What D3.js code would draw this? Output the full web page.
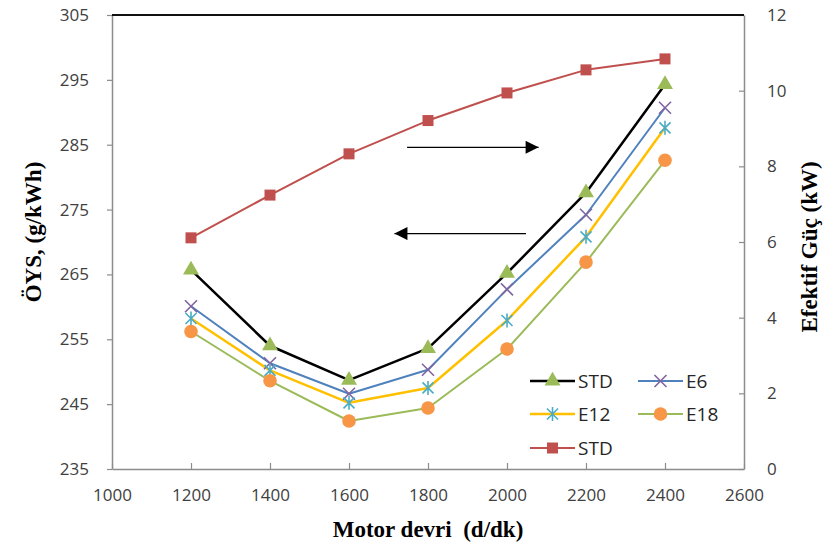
<!DOCTYPE html>
<html>
<head>
<meta charset="utf-8">
<script src="https://cdn.jsdelivr.net/npm/d3@7"></script>
<style>
  html, body { margin: 0; padding: 0; background: #fff; }
  svg { display: block; }
  .tick text { font-family: "Open Sans", sans-serif; font-size: 17px; fill: #404040; }
  .title { font-family: "Liberation Serif", serif; font-weight: bold; font-size: 23px; fill: #000; white-space: pre; }
  .legend text { font-family: "Open Sans", sans-serif; font-size: 19px; fill: #262626; }
</style>
</head>
<body>
<svg id="chart" width="823" height="545"></svg>
<script>
// Engine speed (rpm)
const rpm = [1200, 1400, 1600, 1800, 2000, 2200, 2400];

// Specific fuel consumption, g/kWh (left axis)
const bsfcSTD = [265.7, 254.0, 248.7, 253.6, 265.2, 277.6, 294.3];
const bsfcE6  = [260.1, 251.3, 246.6, 250.3, 262.7, 274.2, 290.7];
const bsfcE12 = [258.2, 250.2, 245.2, 247.5, 257.9, 270.8, 287.6];
const bsfcE18 = [256.2, 248.6, 242.4, 244.4, 253.5, 266.9, 282.6];

// Effective power, kW (right axis)
const powerSTD = [6.11, 7.24, 8.33, 9.21, 9.94, 10.55, 10.84];

// Axis ticks
const xTicks = [1000, 1200, 1400, 1600, 1800, 2000, 2200, 2400, 2600];
const yLeftTicks = [235, 245, 255, 265, 275, 285, 295, 305];
const yRightTicks = [0, 2, 4, 6, 8, 10, 12];

const svg = d3.select("#chart");
const plotLeft = 112, plotRight = 744, plotTop = 15, plotBottom = 469;

const x = d3.scaleLinear().domain([1000, 2600]).range([plotLeft, plotRight]);
const yL = d3.scaleLinear().domain([235, 305]).range([plotBottom, plotTop]);
const yR = d3.scaleLinear().domain([0, 12]).range([plotBottom, plotTop]);

const axisColor = "#8c8c8c";

// Axes
const gx = svg.append("g").attr("transform", `translate(0,${plotBottom})`)
  .call(d3.axisBottom(x).tickValues(xTicks).tickFormat(d3.format("d"))
    .tickSizeInner(-6).tickSizeOuter(0).tickPadding(20));
const gl = svg.append("g").attr("transform", `translate(${plotLeft},0)`)
  .call(d3.axisLeft(yL).tickValues(yLeftTicks).tickSizeInner(5).tickSizeOuter(0).tickPadding(18));
const gr = svg.append("g").attr("transform", `translate(${plotRight},0)`)
  .call(d3.axisRight(yR).tickValues(yRightTicks).tickSizeInner(-5).tickSizeOuter(0).tickPadding(23));
[gx, gl, gr].forEach(g => {
  g.select(".domain").attr("stroke", axisColor).attr("stroke-width", 1.5);
  g.selectAll(".tick line").attr("stroke", axisColor).attr("stroke-width", 1.2);
});

// Top border of the plot area
svg.append("line").attr("x1", plotLeft).attr("x2", plotRight).attr("y1", plotTop).attr("y2", plotTop)
  .attr("stroke", "#111").attr("stroke-width", 2);

// Axis titles
svg.append("text").attr("class", "title").attr("text-anchor", "middle")
  .attr("x", 428).attr("y", 537).text("Motor devri  (d/dk)");
svg.append("text").attr("class", "title").attr("text-anchor", "middle")
  .attr("transform", "translate(41,232) rotate(-90)").text("ÖYS, (g/kWh)");
svg.append("text").attr("class", "title").attr("text-anchor", "middle")
  .attr("transform", "translate(817,247) rotate(-90)").text("Efektif Güç (kW)");

// Series definitions
const series = [
  { name: "STD", values: bsfcSTD, y: yL, line: "#000000", width: 2.5, marker: "triangle", mcolor: "#9BBB59" },
  { name: "E6",  values: bsfcE6,  y: yL, line: "#4F81BD", width: 2,   marker: "cross",    mcolor: "#8064A2" },
  { name: "E12", values: bsfcE12, y: yL, line: "#FFC000", width: 2.5, marker: "star",     mcolor: "#4BACC6" },
  { name: "E18", values: bsfcE18, y: yL, line: "#9BBB59", width: 2,   marker: "circle",   mcolor: "#F79646" },
  { name: "STD", values: powerSTD, y: yR, line: "#C0504D", width: 2,  marker: "square",   mcolor: "#C0504D" }
];

function drawMarker(g, type, color) {
  if (type === "triangle") {
    g.append("path").attr("d", d3.symbol().type(d3.symbolTriangle).size(110)()).attr("fill", color);
  } else if (type === "cross") {
    g.append("path").attr("d", "M-6,-6L6,6M-6,6L6,-6").attr("stroke", color).attr("stroke-width", 1.6).attr("fill", "none");
  } else if (type === "star") {
    g.append("path").attr("d", "M-5.5,-5.5L5.5,5.5M-5.5,5.5L5.5,-5.5M0,-7L0,7")
      .attr("stroke", color).attr("stroke-width", 1.6).attr("fill", "none");
  } else if (type === "circle") {
    g.append("circle").attr("r", 6.8).attr("fill", color);
  } else if (type === "square") {
    g.append("rect").attr("x", -5.5).attr("y", -5.5).attr("width", 11).attr("height", 11).attr("fill", color);
  }
}

series.forEach(s => {
  const line = d3.line().x((d, i) => x(rpm[i])).y(d => s.y(d));
  svg.append("path").datum(s.values).attr("d", line)
    .attr("fill", "none").attr("stroke", s.line).attr("stroke-width", s.width)
    .attr("stroke-linejoin", "round");
});
series.forEach(s => {
  s.values.forEach((v, i) => {
    const g = svg.append("g").attr("transform", `translate(${x(rpm[i])},${s.y(v)})`);
    drawMarker(g, s.marker, s.mcolor);
  });
});

// Direction arrows: power curve reads on the right axis, fuel consumption on the left
svg.append("defs").append("marker").attr("id", "head")
  .attr("viewBox", "0 0 10 10").attr("refX", 10).attr("refY", 5)
  .attr("markerWidth", 15).attr("markerHeight", 13).attr("markerUnits", "userSpaceOnUse")
  .attr("orient", "auto")
  .append("path").attr("d", "M0,0L10,5L0,10Z").attr("fill", "#000");
svg.append("line").attr("x1", x(1747)).attr("x2", x(2080)).attr("y1", yL(284.6)).attr("y2", yL(284.6))
  .attr("stroke", "#000").attr("stroke-width", 1.3).attr("marker-end", "url(#head)");
svg.append("line").attr("x1", x(2048)).attr("x2", x(1715)).attr("y1", yL(271.3)).attr("y2", yL(271.3))
  .attr("stroke", "#000").attr("stroke-width", 1.3).attr("marker-end", "url(#head)");

// Legend
const legend = svg.append("g").attr("class", "legend");
const legendPos = [[530, 381], [638, 381], [530, 414], [638, 414], [530, 448]];
series.forEach((s, i) => {
  const [lx, ly] = legendPos[i];
  const g = legend.append("g").attr("transform", `translate(${lx},${ly})`);
  g.append("line").attr("x1", 0).attr("x2", 45).attr("y1", 0).attr("y2", 0)
    .attr("stroke", s.line).attr("stroke-width", s.width);
  const m = g.append("g").attr("transform", "translate(22.5,0)");
  drawMarker(m, s.marker, s.mcolor);
  g.append("text").attr("x", 48).attr("y", 0).attr("dy", "0.35em").text(s.name);
});
</script>
</body>
</html>
